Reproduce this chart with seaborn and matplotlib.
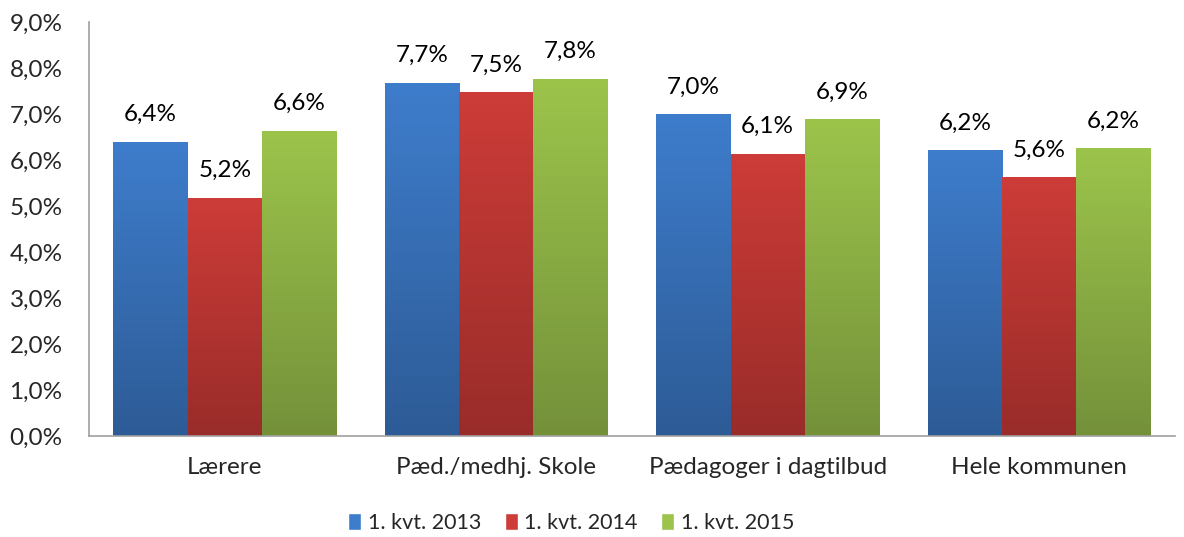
import numpy as np
import pandas as pd
import matplotlib.pyplot as plt
import matplotlib.colors as mcolors
import seaborn as sns

# === Data ===
categories = ["Lærere", "Pæd./medhj. Skole", "Pædagoger i dagtilbud", "Hele kommunen"]
series = ["1. kvt. 2013", "1. kvt. 2014", "1. kvt. 2015"]
v2013 = [6.39, 7.67, 6.98, 6.20]
v2014 = [5.17, 7.46, 6.13, 5.61]
v2015 = [6.63, 7.76, 6.87, 6.24]

rows = []
for name, vals in zip(series, [v2013, v2014, v2015]):
    for cat, v in zip(categories, vals):
        rows.append({"category": cat, "series": name, "value": v})
df = pd.DataFrame(rows)

# top / bottom colours of the gradient fill
top_colors = ["#3E7DCC", "#CD3C38", "#9CC44B"]
bottom_colors = ["#2D5B96", "#992C29", "#74913A"]

sns.set_style("white")
plt.rcParams["font.family"] = ["Lato", "DejaVu Sans"]
FS = 17.5

fig = plt.figure(figsize=(11.84, 5.37), dpi=100)
ax = fig.add_axes([0.0752, 0.188, 0.917, 0.771])

sns.barplot(data=df, x="category", y="value", hue="series", palette=top_colors,
            width=0.82, gap=0, ax=ax, legend=True)

ax.set_ylim(0, 9)
ax.set_yticks(np.arange(0, 9.01, 1))
ax.set_yticklabels([f"{t:.1f}%".replace(".", ",") for t in np.arange(0, 9.01, 1)])
ax.set_xlabel("")
ax.set_ylabel("")
ax.tick_params(axis="y", length=0, pad=19, labelsize=FS)
ax.tick_params(axis="x", length=0, pad=15, labelsize=FS)

for s in ["top", "right"]:
    ax.spines[s].set_visible(False)
ax.spines["left"].set_color("#A0A0A0")
ax.spines["bottom"].set_color("#A0A0A0")
ax.spines["left"].set_linewidth(1.2)
ax.spines["bottom"].set_linewidth(1.2)

# gradient fill + value labels
grad = np.linspace(0, 1, 256).reshape(-1, 1)
for i, container in enumerate(ax.containers):
    cmap = mcolors.LinearSegmentedColormap.from_list(
        f"g{i}", [bottom_colors[i], top_colors[i]])
    for bar in container:
        x0 = bar.get_x()
        w, h = bar.get_width(), bar.get_height()
        bar.set_facecolor("none")
        bar.set_edgecolor("none")
        ax.imshow(grad, extent=[x0, x0 + w, 0, h], origin="lower",
                  cmap=cmap, aspect="auto", zorder=2)
        ax.text(x0 + w / 2, h + 0.6, f"{h:.1f}%".replace(".", ","),
                ha="center", va="center", fontsize=FS, color="black")
ax.set_xlim(-0.5, 3.5)
ax.set_ylim(0, 9)

# legend at the bottom
handles = [plt.Rectangle((0, 0), 1, 1, facecolor=c) for c in top_colors]
ax.legend(handles, series, loc="center", bbox_to_anchor=(0.444, -0.21),
          ncol=3, frameon=False, fontsize=15.5, handlelength=0.6,
          handleheight=0.85, handletextpad=0.3, columnspacing=1.1)

plt.savefig("out.png", dpi=100)
